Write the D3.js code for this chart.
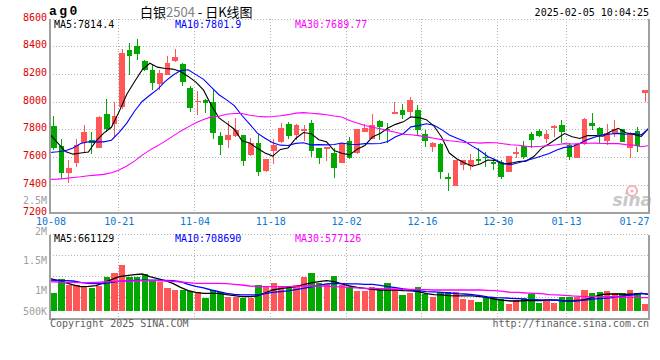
<!DOCTYPE html>
<html><head><meta charset="utf-8">
<script src="https://cdn.jsdelivr.net/npm/d3@7"></script>
<style>body{margin:0;background:#fff}svg{display:block}</style>
</head><body>
<svg id="c" width="660" height="360"></svg>
<script>
// ---------- data ----------
const dates = ["10-08","10-09","10-10","10-11","10-14","10-15","10-16","10-17","10-18","10-21","10-22","10-23","10-24","10-25","10-28","10-29","10-30","10-31",
"11-01","11-04","11-05","11-06","11-07","11-08","11-11","11-12","11-13","11-14","11-15","11-18","11-19","11-20","11-21","11-22","11-25","11-26","11-27","11-28","11-29",
"12-02","12-03","12-04","12-05","12-06","12-09","12-10","12-11","12-12","12-13","12-16","12-17","12-18","12-19","12-20","12-23","12-24","12-25","12-26","12-27","12-30","12-31",
"01-02","01-03","01-06","01-07","01-08","01-09","01-10","01-13","01-14","01-15","01-16","01-17","01-20","01-21","01-22","01-23","01-24","01-27"];
const open  = [7823,7679,7487,7554,7703,7722,7667,7909,7842,7962,8370,8401,8293,8226,8125,8195,8293,8269,8101,7998,8010,7998,7751,7722,7751,7758,7614,7698,7499,7645,7710,7842,7758,7794,7849,7667,7655,7631,7559,7715,7626,7782,7729,7861,7806,7914,7938,7926,7938,7765,7674,7691,7458,7393,7542,7537,7585,7602,7561,7566,7494,7621,7679,7763,7787,7734,7813,7830,7686,7595,7691,7849,7813,7717,7770,7801,7662,7789,8065];
const high  = [7895,7734,7578,7734,7830,7782,7895,8017,7998,8377,8423,8449,8298,8262,8231,8327,8377,8281,8111,8075,8022,8082,7782,7861,7885,7760,7741,7770,7587,7734,7849,7852,7837,7830,7871,7669,7676,7669,7703,7746,7806,7842,7909,7871,7847,7998,7986,8034,7974,7794,7710,7698,7482,7580,7580,7621,7662,7633,7590,7578,7609,7674,7715,7782,7801,7794,7830,7866,7698,7693,7883,7921,7818,7842,7866,7806,7782,7818,8087];
const low   = [7650,7446,7415,7530,7638,7621,7665,7782,7741,7950,8195,8303,8221,8082,8082,8190,8286,8111,7926,7902,7919,7727,7614,7662,7746,7535,7607,7465,7494,7547,7698,7729,7722,7715,7602,7549,7573,7451,7554,7585,7619,7780,7727,7722,7703,7909,7878,7885,7758,7674,7638,7441,7357,7391,7506,7506,7542,7530,7506,7441,7492,7590,7583,7669,7746,7698,7746,7698,7578,7593,7689,7794,7698,7686,7746,7708,7595,7633,7998];
const close = [7669,7487,7523,7686,7782,7705,7890,7801,7895,8351,8329,8346,8226,8135,8209,8281,8322,8142,7955,8005,7993,7775,7686,7758,7794,7573,7698,7494,7585,7686,7813,7753,7835,7799,7645,7595,7674,7523,7698,7590,7799,7811,7830,7818,7794,7926,7902,8010,7794,7717,7698,7494,7441,7578,7578,7578,7573,7590,7554,7458,7607,7633,7602,7722,7753,7770,7823,7782,7602,7691,7878,7823,7758,7777,7806,7710,7770,7681,8082];
const ma5   = [7763,7703,7640,7621,7629,7637,7717,7773,7815,7928,8053,8144,8229,8277,8249,8239,8235,8218,8182,8141,8083,7974,7883,7843,7801,7717,7702,7663,7629,7607,7655,7666,7734,7777,7769,7725,7710,7647,7627,7616,7657,7684,7746,7770,7810,7836,7854,7890,7885,7870,7824,7743,7629,7586,7558,7534,7550,7579,7575,7551,7556,7568,7571,7604,7663,7696,7734,7770,7746,7734,7755,7755,7750,7785,7808,7775,7764,7749,7810];
const ma10  = [7633,7638,7645,7665,7698,7710,7710,7710,7722,7779,7845,7931,8001,8046,8089,8146,8190,8224,8230,8195,8161,8104,8050,8013,7971,7900,7838,7773,7736,7704,7686,7684,7699,7703,7688,7690,7688,7691,7702,7693,7691,7697,7696,7698,7713,7746,7769,7818,7827,7840,7830,7798,7759,7735,7714,7679,7646,7604,7580,7554,7545,7559,7575,7590,7607,7626,7651,7670,7675,7699,7726,7745,7760,7766,7771,7765,7770,7760,7808];
const ma30  = [7439,7441,7446,7453,7458,7465,7470,7475,7487,7506,7535,7571,7614,7650,7681,7715,7751,7787,7818,7847,7871,7890,7895,7909,7914,7914,7902,7895,7890,7893,7898,7906,7917,7921,7916,7912,7905,7896,7889,7864,7846,7828,7815,7805,7791,7779,7765,7761,7755,7746,7736,7726,7718,7712,7705,7705,7701,7704,7703,7696,7689,7685,7677,7674,7678,7684,7689,7697,7694,7698,7700,7701,7698,7697,7697,7690,7686,7675,7684];
// volume in thousands
const volume = [955,1184,1089,1085,1072,1038,1072,1228,1295,1424,1228,1220,1268,1172,1144,1033,1005,1005,994,977,866,1005,972,893,893,866,876,1089,1061,1117,1061,1072,1089,1228,1285,1117,1106,1245,1089,1050,988,988,1050,1005,1117,1016,922,960,1050,938,893,977,966,966,849,838,799,866,893,849,771,838,876,933,792,826,792,893,893,893,1005,950,972,988,950,950,1005,950,771];
const vma5  = [1195,1167,1128,1089,1061,1067,1078,1123,1178,1228,1245,1262,1273,1228,1195,1161,1117,1050,994,966,950,950,950,927,911,894,894,905,955,1005,1028,1045,1061,1095,1123,1145,1161,1145,1106,1072,1050,1033,1016,1005,1005,1005,994,989,977,944,927,922,911,905,905,905,894,877,849,833,821,821,827,827,827,838,833,821,821,827,855,899,933,938,938,933,938,950,933];
const vma10 = [1172,1167,1161,1156,1134,1117,1111,1111,1134,1150,1156,1167,1172,1172,1172,1167,1161,1145,1100,1067,1039,1005,977,950,933,922,922,922,944,966,977,989,1011,1033,1056,1084,1106,1117,1111,1106,1106,1100,1100,1084,1061,1045,1022,1005,994,977,972,966,955,944,938,927,911,888,877,872,866,860,849,844,838,838,833,827,827,833,838,855,866,872,894,911,922,950,933];
const vma30 = [1145,1139,1134,1134,1128,1128,1134,1139,1145,1150,1156,1156,1161,1161,1161,1156,1150,1139,1128,1117,1117,1117,1117,1111,1100,1089,1072,1067,1061,1061,1061,1061,1067,1072,1072,1072,1072,1061,1056,1045,1039,1033,1033,1028,1022,1022,1016,1016,1011,1011,1005,1005,1005,1005,1005,1005,1005,1000,994,983,966,966,955,950,944,927,922,916,905,899,894,894,894,894,888,883,883,877,877];
const priceTicks = [8600,8400,8200,8000,7800,7600,7400,7200];
const volTicks = [2500,2000,1500,1000,500];
const volTickLabels = ["2.5M","2M","1.5M","1M","500K"];
const dateTicks = ["10-08","10-21","11-04","11-18","12-02","12-16","12-30","01-13","01-27"];
const legendMain = [["MA5:7814.4","#000"],["MA10:7801.9","#0000ff"],["MA30:7689.77","#ff00ff"]];
const legendVol  = [["MA5:661129","#000"],["MA10:708690","#0000ff"],["MA30:577126","#ff00ff"]];

// ---------- layout ----------
const L = 50, R = 649;
const mTop = 18.5, mBot = 212.5;
const vTop = 234.5, vBot = 318.5, vBase = 311;
const RED = "#ff5757", GREEN = "#00a800";
const MONO = "'DejaVu Sans Mono', 'Liberation Mono', monospace";

const svg = d3.select("#c");
const x  = d3.scaleBand().domain(dates).range([L, R]).paddingInner(0.25).paddingOuter(0.125);
const xv = d3.scaleBand().domain(dates).range([L, R]).paddingInner(0.17).paddingOuter(0.085);
const xp = d3.scalePoint().domain(dates).range([L, R]);
const y  = d3.scaleLinear().domain([7200, 8600]).range([mBot, mTop]);
const yv = d3.scaleLinear().domain([1000, 2000]).range([290.3, 230.6]);
const gx = d => Math.floor(x(d) - 0.5) + 0.5;

const candles = dates.map((d, i) => ({d, o: open[i], h: high[i], l: low[i], c: close[i], v: volume[i]}));
const up = k => k.c >= k.o;

// ---------- grids ----------
const grid = svg.append("g").attr("stroke", "#b4b4b4").attr("stroke-dasharray", "1,2").attr("shape-rendering", "crispEdges");
priceTicks.filter(t => t !== 7200).forEach(t => {
  const yy = Math.round(y(t)) + 0.5;
  grid.append("line").attr("x1", L).attr("x2", R).attr("y1", yy).attr("y2", yy);
});
[255.5, 276.5, 297.5].forEach(yy => grid.append("line").attr("x1", L).attr("x2", R).attr("y1", yy).attr("y2", yy));
grid.append("line").attr("x1", L).attr("x2", R).attr("y1", vTop).attr("y2", vTop);
dateTicks.slice(1, -1).forEach(d => {
  grid.append("line").attr("x1", gx(d)).attr("x2", gx(d)).attr("y1", mTop).attr("y2", mBot);
  grid.append("line").attr("x1", gx(d)).attr("x2", gx(d)).attr("y1", vTop).attr("y2", vBot);
});

// ---------- watermark ----------
const wm = svg.append("g");
wm.append("circle").attr("cx", 632).attr("cy", 191).attr("r", 5).attr("fill", "none").attr("stroke", "#f4b0b0").attr("stroke-width", 2);
wm.append("circle").attr("cx", 632).attr("cy", 191).attr("r", 1.6).attr("fill", "#f4b0b0");
wm.append("text").attr("x", 652).attr("y", 206).attr("text-anchor", "end")
  .attr("font-family", "'DejaVu Sans', sans-serif").attr("font-style", "italic").attr("font-weight", "bold")
  .attr("font-size", 17).attr("fill", "#c8c8c8").text("sina");

// ---------- candles ----------
const cg = svg.append("g").attr("shape-rendering", "crispEdges");
cg.selectAll("line.w").data(candles).join("line")
  .attr("x1", k => Math.floor(x(k.d) + x.bandwidth() / 2) + 0.5)
  .attr("x2", k => Math.floor(x(k.d) + x.bandwidth() / 2) + 0.5)
  .attr("y1", k => y(k.h)).attr("y2", k => y(k.l))
  .attr("stroke", k => up(k) ? RED : GREEN);
cg.selectAll("rect.b").data(candles).join("rect")
  .attr("x", k => x(k.d)).attr("width", x.bandwidth())
  .attr("y", k => y(Math.max(k.o, k.c)))
  .attr("height", k => Math.max(1.5, Math.abs(y(k.o) - y(k.c))))
  .attr("fill", k => up(k) ? RED : GREEN);

// ---------- MA lines ----------
const lineMain = d3.line().x((v, i) => xp(dates[i])).y(v => y(v));
[[ma5, "#000"], [ma10, "#0000ff"], [ma30, "#ff00ff"]].forEach(([arr, col]) => {
  svg.append("path").attr("d", lineMain(arr)).attr("fill", "none").attr("stroke", col).attr("stroke-width", 1.1);
});

// ---------- volume bars ----------
const vg = svg.append("g").attr("shape-rendering", "crispEdges");
vg.selectAll("rect").data(candles).join("rect")
  .attr("x", k => xv(k.d)).attr("width", xv.bandwidth())
  .attr("y", k => yv(k.v)).attr("height", k => vBase - yv(k.v))
  .attr("fill", k => up(k) ? RED : GREEN);
const lineVol = d3.line().x((v, i) => xp(dates[i])).y(v => yv(v));
[[vma5, "#000"], [vma10, "#0000ff"], [vma30, "#ff00ff"]].forEach(([arr, col]) => {
  svg.append("path").attr("d", lineVol(arr)).attr("fill", "none").attr("stroke", col).attr("stroke-width", 1.3);
});

// ---------- borders ----------
const bd = svg.append("g").attr("stroke", "#a0a0a0").attr("stroke-width", 2).attr("shape-rendering", "crispEdges");
bd.append("line").attr("x1", L).attr("x2", L).attr("y1", mTop).attr("y2", mBot + 1);
bd.append("line").attr("x1", R).attr("x2", R).attr("y1", mTop).attr("y2", mBot + 1);
bd.append("line").attr("x1", L).attr("x2", R + 1).attr("y1", mBot + 0.5).attr("y2", mBot + 0.5);
bd.append("line").attr("x1", L).attr("x2", L).attr("y1", vTop).attr("y2", vBot + 1);
bd.append("line").attr("x1", R).attr("x2", R).attr("y1", vTop).attr("y2", vBot + 1);
bd.append("line").attr("x1", L).attr("x2", R + 1).attr("y1", vBot + 0.5).attr("y2", vBot + 0.5);

// ---------- text ----------
const txt = (xx, yy, s, col, anchor, size, fam) => svg.append("text").attr("x", xx).attr("y", yy)
  .attr("dominant-baseline", "central").attr("text-anchor", anchor || "start")
  .attr("font-family", fam || MONO).attr("font-size", size || 10).attr("fill", col).text(s);

priceTicks.forEach(t => txt(47, y(t) - 1.5, String(t), "#e00000", "end"));
volTicks.forEach((t, i) => {
  let yy = Math.min(yv(t), vBase);
  if (yy > mBot + 8 && yy < vTop) yy = vTop - 3;   // label sitting in the gap below the date axis
  txt(47, yy, volTickLabels[i], "#a0a0a0", "end");
});
dateTicks.forEach(d => {
  const cx = x(d);
  const t = txt(cx, 221, d, "#0a78d0", "middle");
  const w = t.node().getComputedTextLength();
  if (cx + w / 2 > R + 0.5) t.attr("x", R + 0.5).attr("text-anchor", "end");
});
const legX = [54, 175, 295];
legendMain.forEach(([s, c], i) => txt(legX[i], 24.5, s, c));
legendVol.forEach(([s, c], i) => txt(legX[i], 238.5, s, c));

// header
svg.append("text").attr("x", 49).attr("y", 11).attr("dominant-baseline", "central")
  .attr("font-family", "'Liberation Mono', monospace").attr("font-weight", "bold").attr("font-size", 13)
  .attr("letter-spacing", 2.5).attr("fill", "#000").text("ag0");
const title = svg.append("text").attr("x", 140).attr("y", 10.5).attr("dominant-baseline", "central")
  .attr("font-family", "'Noto Sans CJK SC', sans-serif").attr("font-size", 13).attr("fill", "#000");
title.append("tspan").text("白银");
title.append("tspan").attr("fill", "#808080").text("2504");
title.append("tspan").text(" - 日K线图");
txt(649, 12, "2025-02-05 10:04:25", "#000", "end");
txt(50, 323.5, "Copyright 2025 SINA.COM", "#606060", "start");
txt(649, 323.5, "http://finance.sina.com.cn", "#606060", "end");
</script>
</body></html>
